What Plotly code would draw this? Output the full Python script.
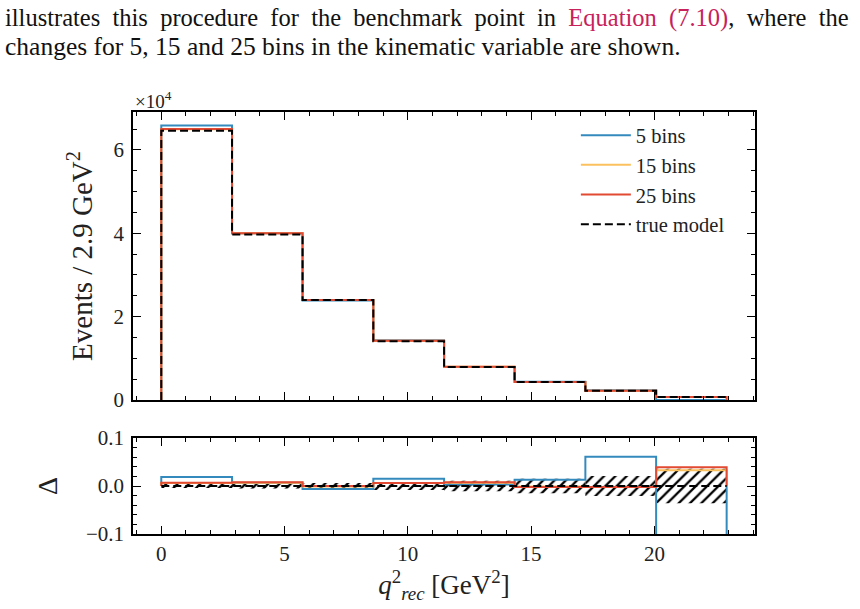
import plotly.graph_objects as go

# ---------------- data ----------------
bin_edges = [0.0, 2.87, 5.73, 8.60, 11.47, 14.33, 17.20, 20.07, 22.93]

true_model = [64600, 39700, 24000, 14100, 7900, 4300, 2200, 700]
bins5 = [65850, 39980, 23860, 14330, 7920, 4360, 2340, 0]
bins15 = [64990, 39980, 24000, 14190, 7950, 4295, 2196, 723]
bins25 = [65030, 40020, 24000, 14190, 7960, 4290, 2195, 727]

delta5 = [0.019, 0.007, -0.006, 0.015, 0.003, 0.013, 0.061, -1.0]
delta15 = [0.006, 0.007, -0.001, 0.006, 0.007, -0.001, -0.002, 0.033]
delta25 = [0.007, 0.008, 0.000, 0.006, 0.008, -0.002, -0.002, 0.039]
delta_true = [0, 0, 0, 0, 0, 0, 0, 0]
stat_err = [0.004, 0.005, 0.0065, 0.0085, 0.011, 0.015, 0.021, 0.036]

y_ticks_main = [0, 20000, 40000, 60000]
y_ticktext_main = ["0", "2", "4", "6"]
x_ticks = [0, 5, 10, 15, 20]

series_names = ["5 bins", "15 bins", "25 bins", "true model"]
colors = ["#348ABD", "#FBC15E", "#E24A33", "black"]

header_line1 = ["illustrates", "this", "procedure", "for", "the", "benchmark", "point", "in",
                "<span style='color:#C8215B'>Equation", "(7.10)</span>,", "where", "the"]
header_line2 = "changes for 5, 15 and 25 bins in the kinematic variable are shown."

FONT = "Liberation Serif, DejaVu Serif, serif"


def step_xy(edges, vals):
    xs = [edges[0]]
    ys = [0]
    for i, v in enumerate(vals):
        xs += [edges[i], edges[i + 1]]
        ys += [v, v]
    xs.append(edges[-1])
    ys.append(0)
    return xs, ys


fig = go.Figure()

# ---- main panel ----
main_series = [bins5, bins15, bins25, true_model]
for k, vals in enumerate(main_series):
    xs, ys = step_xy(bin_edges, vals)
    dash = "8px,4px" if k == 3 else "solid"
    fig.add_trace(go.Scatter(
        x=xs, y=ys, mode="lines", name=series_names[k],
        line=dict(color=colors[k], width=2, dash=dash),
        xaxis="x", yaxis="y", legendgroup=series_names[k],
    ))

# ---- ratio panel ----
centers = [(bin_edges[i] + bin_edges[i + 1]) / 2 for i in range(len(stat_err))]
widths = [bin_edges[i + 1] - bin_edges[i] for i in range(len(stat_err))]
fig.add_trace(go.Bar(
    x=centers, y=[2 * e for e in stat_err], base=[-e for e in stat_err], width=widths,
    marker=dict(color="rgba(255,255,255,0)", line=dict(width=0),
                pattern=dict(shape="/", fgcolor="black", bgcolor="rgba(255,255,255,0)",
                             fgopacity=1, fillmode="replace", size=8, solidity=0.28)),
    xaxis="x2", yaxis="y2", showlegend=False, hoverinfo="skip",
))
ratio_series = [delta5, delta15, delta25, delta_true]
for k, vals in enumerate(ratio_series):
    xs, ys = step_xy(bin_edges, vals)
    dash = "8px,4px" if k == 3 else "solid"
    fig.add_trace(go.Scatter(
        x=xs, y=ys, mode="lines", name=series_names[k],
        line=dict(color=colors[k], width=2, dash=dash),
        xaxis="x2", yaxis="y2", showlegend=False,
    ))

# ---- axes ----
xr = [-1.147, 24.08]
common = dict(showline=True, linecolor="black", linewidth=1.6, mirror="allticks",
              ticks="inside", ticklen=8, tickwidth=1.2, tickcolor="black",
              showgrid=False, zeroline=False, automargin=False,
              tickfont=dict(family=FONT, size=21, color="#222"))

H_TOP, H_BOT = 112, 534
TOT = H_BOT - H_TOP
main_dom = [(H_BOT - 400) / TOT, 1.0]
ratio_dom = [0.0, (H_BOT - 438) / TOT]

fig.update_layout(
    width=860, height=609,
    margin=dict(l=133, r=105, t=H_TOP, b=609 - H_BOT),
    paper_bgcolor="white", plot_bgcolor="white",
    font=dict(family=FONT, size=18, color="#222"),
    xaxis=dict(common, domain=[0, 1], range=xr, anchor="y", showticklabels=False,
               tickvals=x_ticks, minor=dict(ticks="inside", ticklen=4, dtick=1, tickcolor="black", tickwidth=1)),
    yaxis=dict(common, domain=main_dom, range=[0, 69100], anchor="x",
               tickvals=y_ticks_main, ticktext=y_ticktext_main, ticklabelstandoff=3,
               minor=dict(ticks="inside", ticklen=4, dtick=5000, tickcolor="black", tickwidth=1),
               title=dict(text="Events / 2.9 GeV<sup>2</sup>", font=dict(family=FONT, size=29, color="#222"),
                          standoff=12)),
    xaxis2=dict(common, domain=[0, 1], range=xr, anchor="y2", matches="x",
                tickvals=x_ticks,
                minor=dict(ticks="inside", ticklen=4, dtick=1, tickcolor="black", tickwidth=1),
                title=dict(text="<i>q</i><sup>2</sup><sub><i>rec</i></sub> [GeV<sup>2</sup>]",
                           font=dict(family=FONT, size=27, color="#222"), standoff=4)),
    yaxis2=dict(common, domain=ratio_dom, range=[-0.1, 0.1], anchor="x2",
                tickvals=[-0.1, 0.0, 0.1], tickformat=".1f", ticklabelstandoff=3,
                minor=dict(ticks="inside", ticklen=4, dtick=0.02, tickcolor="black", tickwidth=1),
                title=dict(text="Δ", font=dict(family=FONT, size=28, color="#222"), standoff=20)),
    legend=dict(x=0.712, y=0.992, xanchor="left", yanchor="top", itemwidth=50,
                bgcolor="rgba(0,0,0,0)", borderwidth=0, tracegroupgap=0,
                font=dict(family=FONT, size=20.5, color="#222")),
    showlegend=True,
)

# multiplier label
fig.add_annotation(text="×10<sup>4</sup>", xref="paper", yref="paper",
                   x=0.0, y=1.0, xanchor="left", yanchor="bottom", showarrow=False,
                   font=dict(family=FONT, size=19, color="#222"), yshift=-2)


def px2x(px):
    return (px - 133) / 622


def py2y(py):
    return (H_BOT - py) / TOT


# header text (document paragraph, justified first line)
fig.add_annotation(text="\u2002".join(header_line1), xref="paper", yref="paper",
                   x=px2x(3), y=py2y(18), xanchor="left", yanchor="middle", showarrow=False,
                   font=dict(family=FONT, size=24.5, color="#111"))
fig.add_annotation(text=header_line2, xref="paper", yref="paper",
                   x=px2x(3), y=py2y(46), xanchor="left", yanchor="middle", showarrow=False,
                   font=dict(family=FONT, size=25.5, color="#111"))

fig.write_html("out.html")
